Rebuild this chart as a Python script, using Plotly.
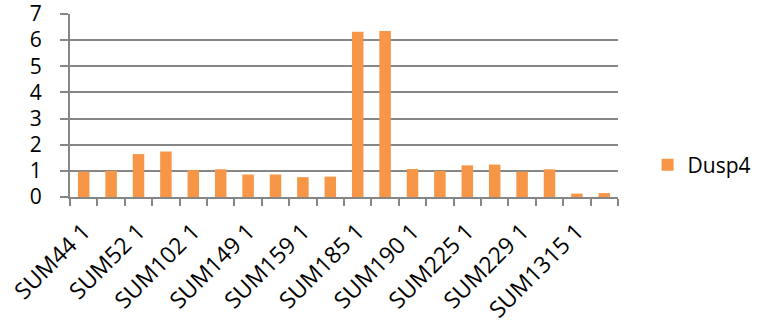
import plotly.graph_objects as go

# samples (every second label is hidden on the axis, as in the source chart)
samples = ["SUM44 1", "SUM44 2", "SUM52 1", "SUM52 2", "SUM102 1", "SUM102 2",
           "SUM149 1", "SUM149 2", "SUM159 1", "SUM159 2", "SUM185 1", "SUM185 2",
           "SUM190 1", "SUM190 2", "SUM225 1", "SUM225 2", "SUM229 1", "SUM229 2",
           "SUM1315 1", "SUM1315 2"]
dusp4 = [0.97, 1.0, 1.64, 1.74, 1.03, 1.06, 0.86, 0.86, 0.76, 0.78,
         6.32, 6.35, 1.07, 1.0, 1.21, 1.24, 0.97, 1.06, 0.13, 0.15]
tick_text = [s if i % 2 == 0 else "" for i, s in enumerate(samples)]

fig = go.Figure()
fig.add_trace(go.Bar(x=samples, y=dusp4, name="Dusp4",
                     marker=dict(color="#F79646", line=dict(width=0))))

fig.update_layout(
    width=768, height=324,
    margin=dict(l=70, r=143, t=14, b=127),
    paper_bgcolor="white", plot_bgcolor="white",
    font=dict(family="Open Sans, sans-serif", color="black"),
    bargap=0.58,
    showlegend=True,
    legend=dict(x=1.054, y=0.175, xanchor="left", yanchor="middle",
                font=dict(size=21)),
)
fig.update_xaxes(
    type="category", tickvals=samples, ticktext=tick_text,
    tickangle=-45, tickfont=dict(size=23), automargin=False,
    ticklabelstandoff=10,
    tickson="boundaries", ticks="outside", ticklen=7, tickcolor="#868686",
    tickwidth=2, showline=True, linecolor="#868686", linewidth=2,
    showgrid=False,
)
fig.update_yaxes(
    range=[0, 7], dtick=1, tickfont=dict(size=21), automargin=False,
    ticklabelstandoff=14, ticklabeloverflow="allow",
    showgrid=True, gridcolor="#868686", gridwidth=2,
    ticks="outside", ticklen=8, tickcolor="#868686", tickwidth=2,
    showline=True, linecolor="#868686", linewidth=2, zeroline=False,
)

# drop the browser's default 8px body margin so the figure sits at the page corner
fig.write_html("out.html", config={"displayModeBar": False},
               post_script="document.body.style.margin='0';")
